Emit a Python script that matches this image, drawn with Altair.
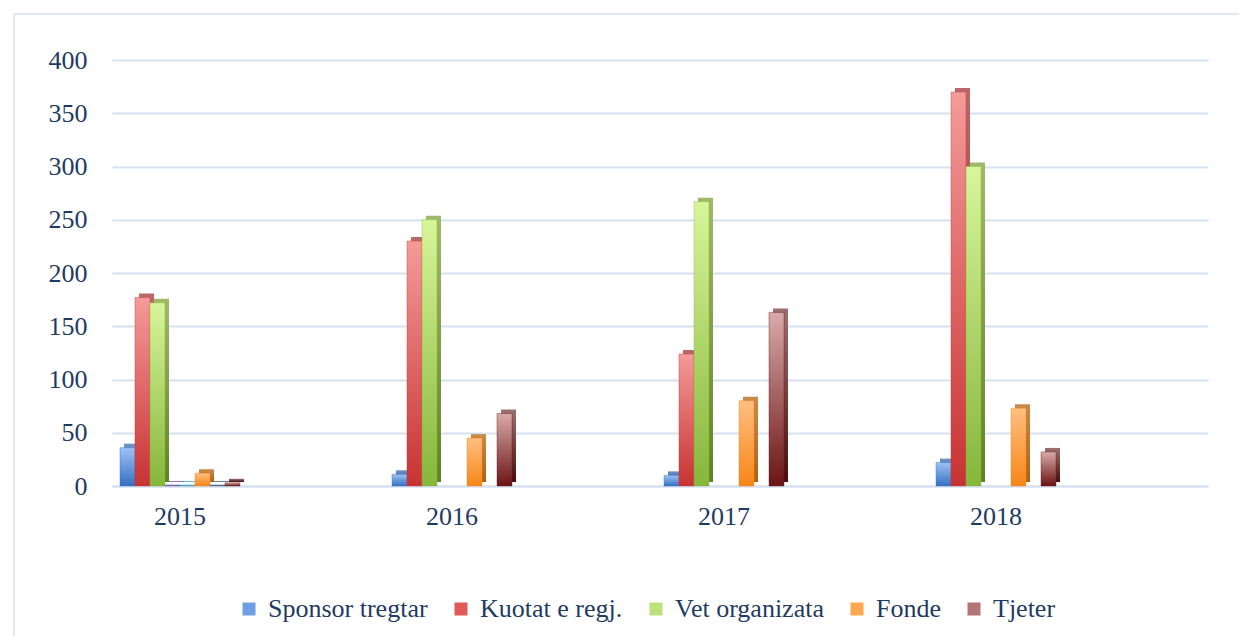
import altair as alt
import pandas as pd

years = ["2015", "2016", "2017", "2018"]
series_all = ["Sponsor tregtar", "Kuotat e regj.", "Vet organizata", "s4", "s5", "Fonde", "s7", "Tjeter"]
named = ["Sponsor tregtar", "Kuotat e regj.", "Vet organizata", "Fonde", "Tjeter"]

sponsor = [36, 11, 10, 22]
kuotat = [177, 230, 124, 370]
vet = [172, 250, 267, 300]
s4 = [1, 0, 0, 0]
s5 = [1, 0, 0, 0]
fonde = [12, 45, 80, 73]
s7 = [1, 0, 0, 0]
tjeter = [3, 68, 163, 32]

values = [sponsor, kuotat, vet, s4, s5, fonde, s7, tjeter]

# (front top, front bottom, side top, side bottom)
gradients = {
    "Sponsor tregtar": ("#9cc3f7", "#3570c0", "#6f93c8", "#24508e"),
    "Kuotat e regj.": ("#f59a9a", "#c83232", "#b86a6a", "#8c2020"),
    "Vet organizata": ("#d8f59a", "#86b63a", "#9fba68", "#5e8226"),
    "s4": ("#9a82c0", "#6f549a", "#9a82c0", "#8a72b0"),
    "s5": ("#6fc6dc", "#3b9ab6", "#6fc6dc", "#5fb6cc"),
    "Fonde": ("#ffbf80", "#f78618", "#c98a4c", "#b06010"),
    "s7": ("#7088a8", "#48607e", "#7088a8", "#607898"),
    "Tjeter": ("#d9aaaa", "#6a1414", "#9c7070", "#480c0c"),
}
legend_colors = ["#6f9fe2", "#e05a5a", "#bde27a", "#ffa750", "#b27474"]

rows = []
for s, vals in zip(series_all, values):
    for y, v in zip(years, vals):
        rows.append({"year": y, "series": s, "value": v})
df = pd.DataFrame(rows)

text_color = "#1F3B63"
grid_color = "#d5e1f0"
font = "Liberation Serif"

x_enc = alt.X(
    "year:N",
    sort=years,
    scale=alt.Scale(domain=years, paddingInner=0.5588, paddingOuter=0.2941, align=0.05),
    axis=alt.Axis(title=None, labelAngle=0, labelFont=font, labelFontSize=26,
                  labelColor=text_color, labelPadding=17, ticks=False, domain=True,
                  domainColor=grid_color, domainWidth=2, grid=False),
)
y_enc = alt.Y(
    "value:Q",
    scale=alt.Scale(domain=[0, 400]),
    axis=alt.Axis(title=None, values=list(range(0, 401, 50)), labelFont=font,
                  labelFontSize=26, labelColor=text_color, labelPadding=25, ticks=False,
                  domain=False, grid=True, gridColor=grid_color, gridWidth=2),
)


def xoff(shift):
    return alt.XOffset(
        "series:N",
        scale=alt.Scale(domain=series_all, range=[shift, 120 + shift], paddingInner=0, paddingOuter=0),
    )


legend_layer = (
    alt.Chart(df)
    .transform_filter(alt.FieldOneOfPredicate(field="series", oneOf=named))
    .mark_bar(opacity=0)
    .encode(
        x=x_enc, xOffset=xoff(0), y=y_enc,
        color=alt.Color(
            "series:N",
            scale=alt.Scale(domain=named, range=legend_colors),
            legend=alt.Legend(
                title=None, orient="none", direction="horizontal", legendX=124, legendY=536,
                symbolType="square", symbolSize=169, symbolOpacity=1, symbolStrokeWidth=0,
                labelFont=font, labelFontSize=26, labelColor=text_color,
                labelOffset=6, columnPadding=20, padding=0, labelLimit=300,
            ),
        ),
    )
)


def grad(c1, c2):
    return alt.LinearGradient(
        gradient="linear", x1=0, x2=0, y1=0, y2=1,
        stops=[alt.GradientStop(color=c1, offset=0), alt.GradientStop(color=c2, offset=1)],
    )


side_layers = []
front_layers = []
for s in series_all:
    ft, fb, st, sb = gradients[s]
    side_layers.append(
        alt.Chart(df)
        .transform_filter(alt.datum.series == s)
        .transform_filter(alt.datum.value > 0)
        .mark_bar(color=grad(st, sb), yOffset=-4, y2Offset=-4)
        .encode(x=x_enc, xOffset=xoff(4), y=y_enc)
    )
    front_layers.append(
        alt.Chart(df)
        .transform_filter(alt.datum.series == s)
        .transform_filter(alt.datum.value > 0)
        .mark_bar(color=grad(ft, fb), stroke=fb, strokeWidth=0.4)
        .encode(x=x_enc, xOffset=xoff(0), y=y_enc)
    )

frame_df = pd.DataFrame({"a": [0]})
frame_left = alt.Chart(frame_df).mark_rule(color="#d5e1f0", strokeWidth=1.5).encode(
    x=alt.value(-98), y=alt.value(-46), y2=alt.value(600)
)
frame_top = alt.Chart(frame_df).mark_rule(color="#d5e1f0", strokeWidth=1.5).encode(
    x=alt.value(-98), x2=alt.value(1150), y=alt.value(-46)
)

layers = [legend_layer]
layers += side_layers
layers += front_layers
layers += [frame_left, frame_top]

chart = (
    alt.layer(*layers)
    .resolve_scale(xOffset="independent")
    .properties(
        width=1096, height=426,
        autosize=alt.AutoSizeParams(type="none"),
        padding={"left": 104, "top": 52, "right": 31, "bottom": 150},
        background="white",
    )
    .configure_view(stroke=None)
    .configure_legend(labelFont=font, labelFontSize=26, labelColor=text_color)
    .configure_axis(labelFont=font)
)

chart.save("out.html", embed_options={"renderer": "svg", "actions": False})
